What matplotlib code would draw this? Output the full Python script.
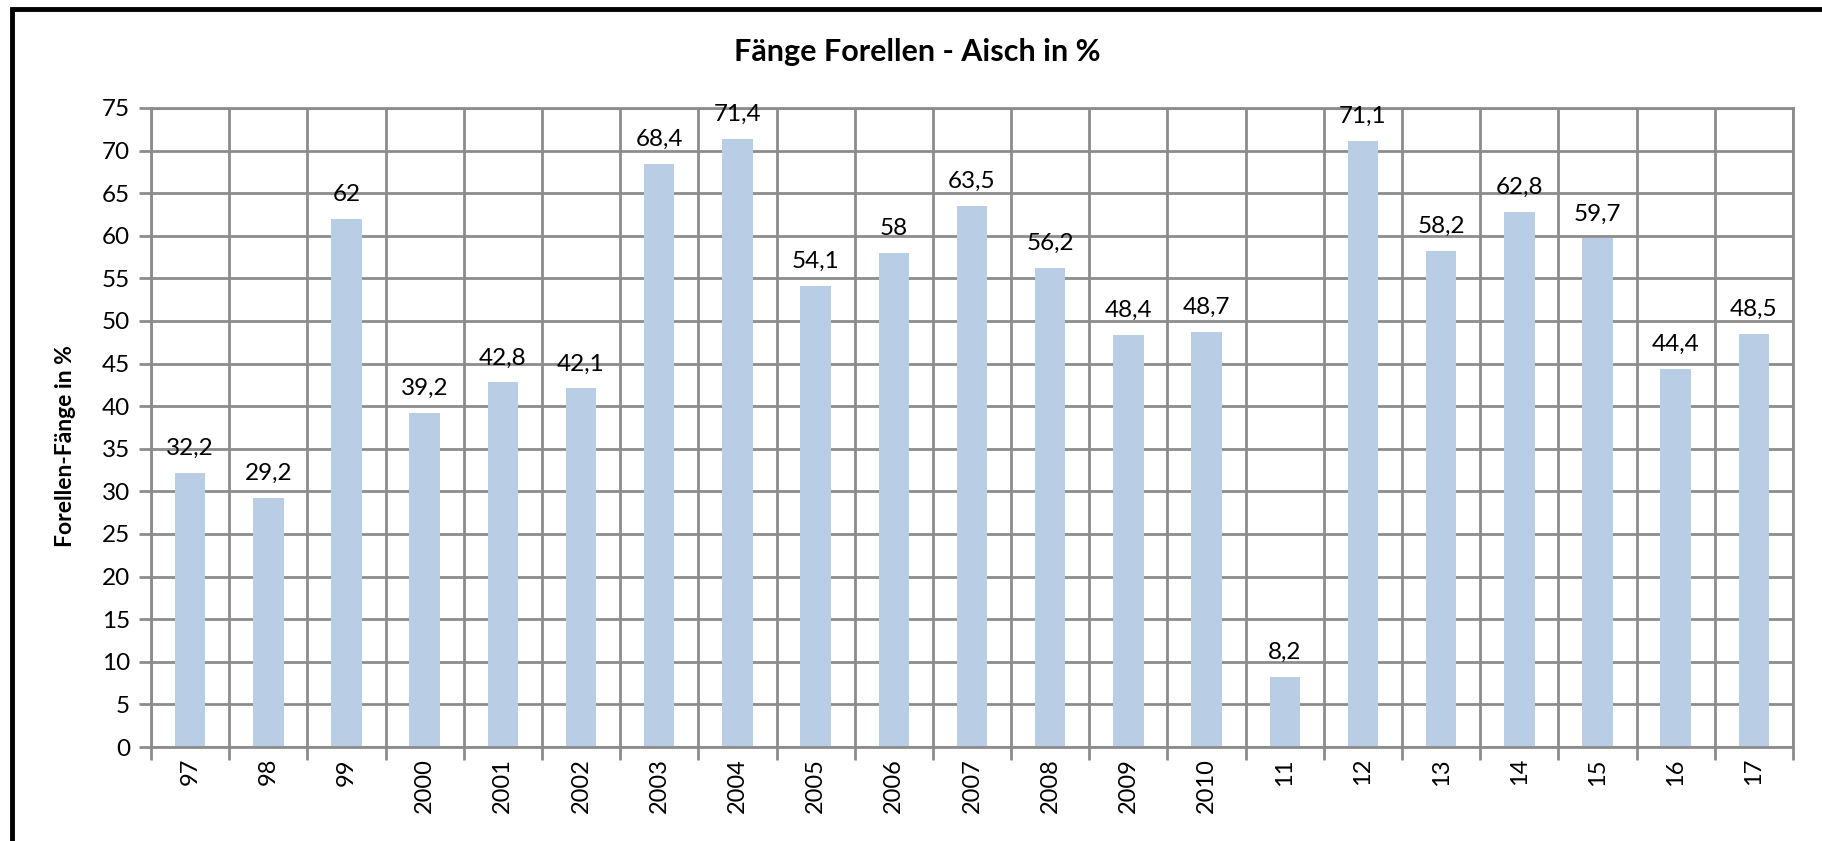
import matplotlib
matplotlib.use("Agg")
import matplotlib.pyplot as plt
from matplotlib.patches import Rectangle

categories = ["97", "98", "99", "2000", "2001", "2002", "2003", "2004", "2005", "2006",
              "2007", "2008", "2009", "2010", "11", "12", "13", "14", "15", "16", "17"]
values = [32.2, 29.2, 62, 39.2, 42.8, 42.1, 68.4, 71.4, 54.1, 58,
          63.5, 56.2, 48.4, 48.7, 8.2, 71.1, 58.2, 62.8, 59.7, 44.4, 48.5]
yticks = list(range(0, 80, 5))

plt.rcParams['font.family'] = ['Lato', 'DejaVu Sans']

W, H = 1822, 841
fig = plt.figure(figsize=(W / 100, H / 100), dpi=100)
ax = fig.add_axes([151 / W, 1 - 747 / H, (1793 - 151) / W, (747 - 108) / H])

x = list(range(len(categories)))
ax.bar(x, values, width=0.39, color="#b9cde5", zorder=2)

ax.set_xlim(-0.5, len(categories) - 0.5)
ax.set_ylim(0, 75)
ax.set_yticks(yticks)
ax.set_yticklabels([str(t) for t in yticks], fontsize=17.5)

# gridlines at category boundaries
bounds = [i - 0.5 for i in range(len(categories) + 1)]
ax.set_xticks(bounds)
ax.set_xticklabels([])
ax.set_xticks(x, minor=True)
ax.set_xticklabels(categories, minor=True, rotation=90, fontsize=17)
ax.tick_params(axis="x", which="minor", length=0, pad=8)
ax.tick_params(axis="x", which="major", length=9, width=2, color="#8c8c8c")
ax.tick_params(axis="y", length=9, width=2, color="#8c8c8c", pad=6)

ax.grid(True, which="major", color="#8c8c8c", linewidth=2, zorder=0)
ax.set_axisbelow(True)
for s in ax.spines.values():
    s.set_color("#8c8c8c")
    s.set_linewidth(2)

for xi, v in zip(x, values):
    lbl = ("%g" % v).replace(".", ",")
    ax.annotate(lbl, (xi, v), xytext=(0, 10), textcoords="offset points",
                ha="center", va="bottom", fontsize=17.5, zorder=3)

fig.text(66 / W, 1 - 446 / H, "Forellen-Fänge in %", rotation=90,
         ha="center", va="center", fontsize=16.5, fontweight="bold")
fig.text(917 / W, 1 - 52 / H, "Fänge Forellen - Aisch in %",
         ha="center", va="center", fontsize=22, fontweight="bold")

# outer chart frame (cut off at right and bottom)
fig.patches.append(Rectangle((11.5 / W, -0.1), 1.2, 1 - 8.5 / H + 0.1,
                             transform=fig.transFigure, fill=False,
                             edgecolor="black", linewidth=3.5))

fig.savefig("out.png", dpi=100)
